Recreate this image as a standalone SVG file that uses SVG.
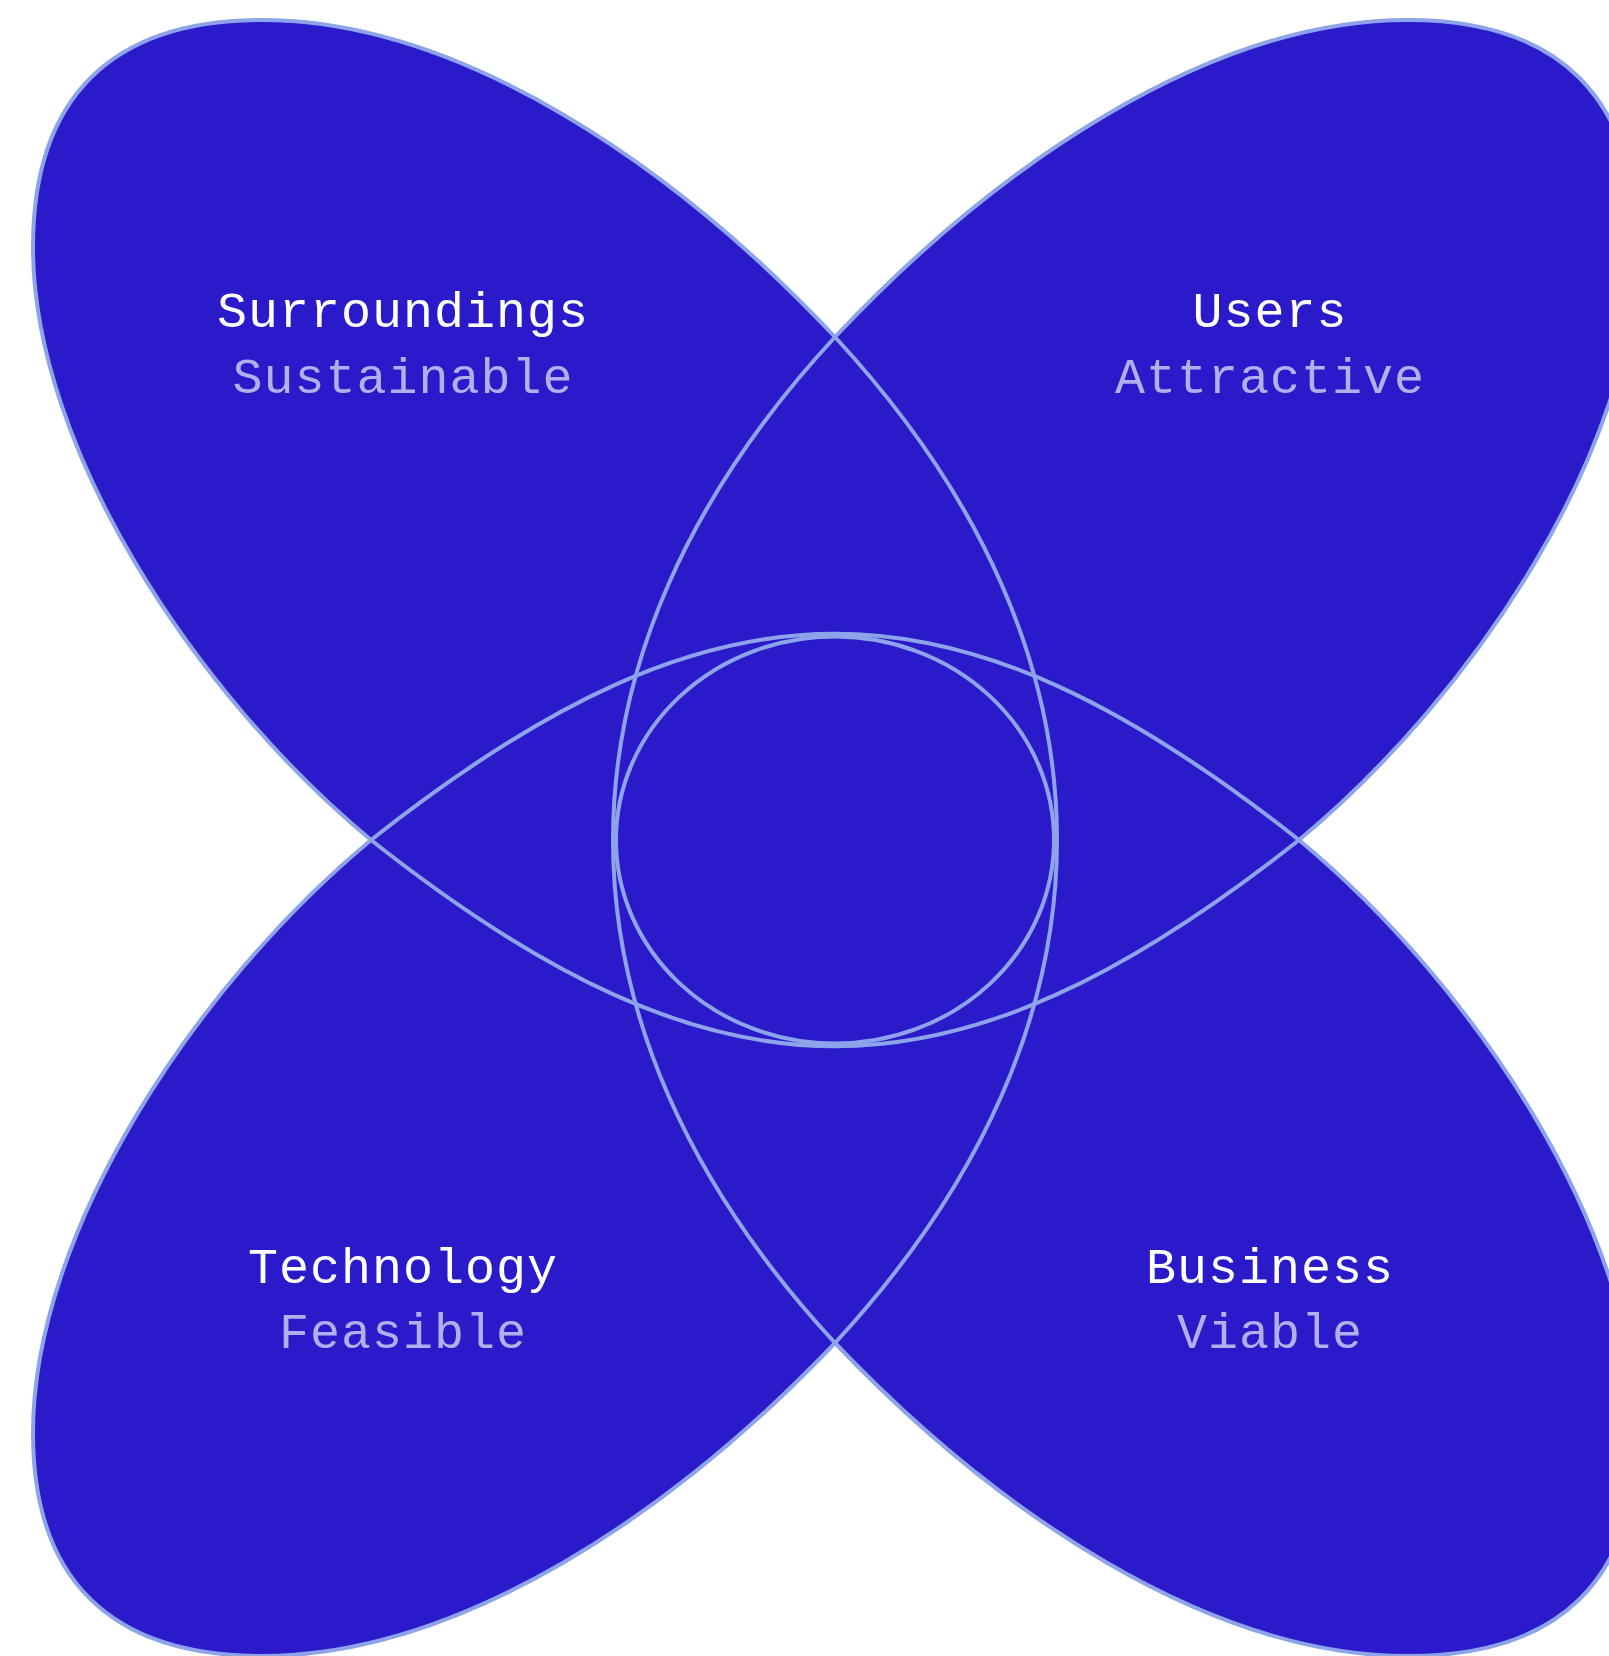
<svg xmlns="http://www.w3.org/2000/svg" width="1609" height="1656" viewBox="0 0 1609 1656">
  <style>
    .fill { fill: #2a1ac9; stroke: none; }
    .line { fill: none; stroke: #8ea4ea; stroke-width: 4; stroke-linejoin: round; }
    .title { font-family: "Liberation Mono", "DejaVu Sans Mono", monospace; font-size: 50px; letter-spacing: 1px; fill: #ffffff; text-anchor: middle; }
    .sub { font-family: "Liberation Mono", "DejaVu Sans Mono", monospace; font-size: 50px; letter-spacing: 1px; fill: #b3afef; text-anchor: middle; }
  </style>
  <rect x="0" y="0" width="1609" height="1656" fill="#ffffff"/>

  <g id="surroundings">
    <path class="fill" d="M 835 337 C 675 167, 462 20, 262 20 C 112 20, 33 97, 33 247 C 33 447, 194 693, 371 840 L 835 840 Z"/>
    <path class="line" d="M 835 337 C 675 167, 462 20, 262 20 C 112 20, 33 97, 33 247 C 33 447, 194 693, 371 840"/>
  </g>
  <g id="users">
    <path class="fill" d="M 835 337 C 995 167, 1208 20, 1408 20 C 1558 20, 1637 97, 1637 247 C 1637 447, 1476 693, 1299 840 L 835 840 Z"/>
    <path class="line" d="M 835 337 C 995 167, 1208 20, 1408 20 C 1558 20, 1637 97, 1637 247 C 1637 447, 1476 693, 1299 840"/>
  </g>
  <g id="technology">
    <path class="fill" d="M 835 1343 C 675 1511, 462 1656, 262 1656 C 112 1656, 33 1581, 33 1433 C 33 1233, 194 987, 371 840 L 835 840 Z"/>
    <path class="line" d="M 835 1343 C 675 1511, 462 1656, 262 1656 C 112 1656, 33 1581, 33 1433 C 33 1233, 194 987, 371 840"/>
  </g>
  <g id="business">
    <path class="fill" d="M 835 1343 C 995 1511, 1208 1656, 1408 1656 C 1558 1656, 1637 1581, 1637 1433 C 1637 1233, 1476 987, 1299 840 L 835 840 Z"/>
    <path class="line" d="M 835 1343 C 995 1511, 1208 1656, 1408 1656 C 1558 1656, 1637 1581, 1637 1433 C 1637 1233, 1476 987, 1299 840"/>
  </g>

  <g id="overlaps">
    <path class="line" d="M 835 337 C 539 657, 539 1023, 835 1343"/>
    <path class="line" d="M 835 337 C 1131 657, 1131 1023, 835 1343"/>
    <path class="line" d="M 371 840 C 719 565, 951 565, 1299 840"/>
    <path class="line" d="M 371 840 C 719 1115, 951 1115, 1299 840"/>
    <ellipse class="line" cx="835" cy="840" rx="219" ry="203.5"/>
  </g>

  <g id="labels">
    <g id="label-surroundings">
      <text class="title" x="403" y="327">Surroundings</text>
      <text class="sub" x="403" y="393">Sustainable</text>
    </g>
    <g id="label-users">
      <text class="title" x="1270" y="327">Users</text>
      <text class="sub" x="1270" y="393">Attractive</text>
    </g>
    <g id="label-technology">
      <text class="title" x="403" y="1283">Technology</text>
      <text class="sub" x="403" y="1348">Feasible</text>
    </g>
    <g id="label-business">
      <text class="title" x="1270" y="1283">Business</text>
      <text class="sub" x="1270" y="1348">Viable</text>
    </g>
  </g>
</svg>
